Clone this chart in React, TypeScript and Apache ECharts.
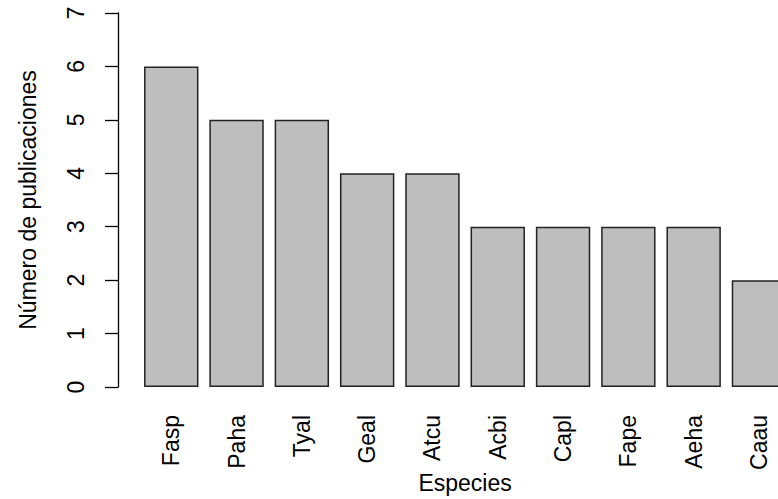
import React, { useEffect, useRef } from "react";
import * as echarts from "echarts";

const categories = ["Fasp", "Paha", "Tyal", "Geal", "Atcu", "Acbi", "Capl", "Fape", "Aeha", "Caau"];
const values = [6, 5, 5, 4, 4, 3, 3, 3, 3, 2];
const yTicks = [0, 1, 2, 3, 4, 5, 6, 7];

const FONT = "'Liberation Sans', Arial, sans-serif";

export default function App() {
  const ref = useRef<HTMLDivElement>(null);
  useEffect(() => {
    if (!ref.current) return;
    const chart = echarts.init(ref.current, null, { renderer: "svg" });
    chart.setOption({
      animation: false,
      backgroundColor: "#ffffff",
      textStyle: { fontFamily: FONT },
      grid: { left: 138.6, top: 13, width: 653, height: 374, containLabel: false, outerBoundsMode: "none" },
      xAxis: {
        type: "category",
        data: categories,
        axisLine: { show: false },
        axisTick: { show: false },
        axisLabel: { rotate: 90, margin: 28, fontSize: 23, color: "#000", fontFamily: FONT },
        name: "Especies",
        nameLocation: "middle",
        nameGap: 84,
        nameMoveOverlap: false,
        nameTextStyle: { fontSize: 23, color: "#000", fontFamily: FONT },
      },
      yAxis: {
        type: "value",
        min: yTicks[0],
        max: yTicks[yTicks.length - 1],
        interval: 1,
        offset: 20.6,
        splitLine: { show: false },
        axisLine: { show: true, lineStyle: { color: "#000", width: 1.3 } },
        axisTick: { show: true, length: 13, lineStyle: { color: "#000", width: 1.3 } },
        axisLabel: { rotate: 90, margin: 31, fontSize: 23, color: "#000", fontFamily: FONT },
        name: "Número de publicaciones",
        nameLocation: "middle",
        nameRotate: 90,
        nameGap: 79,
        nameMoveOverlap: false,
        nameTextStyle: { fontSize: 23, color: "#000", fontFamily: FONT },
      },
      series: [
        {
          type: "bar",
          data: values,
          barWidth: 54.4,
          itemStyle: { color: "#BEBEBE", borderColor: "#222", borderWidth: 1.5 },
        },
      ],
    });
    return () => chart.dispose();
  }, []);
  return (
    <div style={{ position: "fixed", left: 0, top: 0, width: 778, height: 499, overflow: "hidden", background: "#fff" }}>
      <div ref={ref} style={{ width: 830, height: 499 }} />
    </div>
  );
}
